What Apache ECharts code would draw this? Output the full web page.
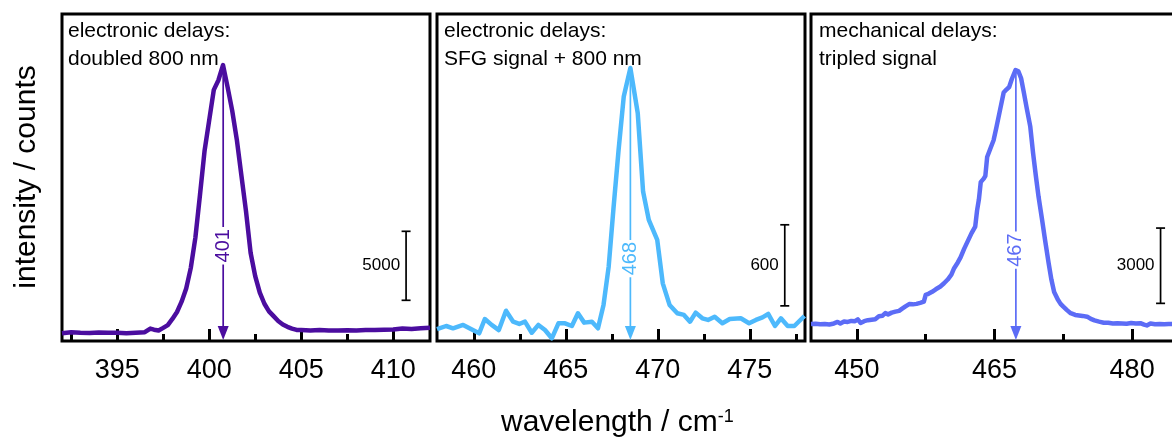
<!DOCTYPE html>
<html>
<head>
<meta charset="utf-8">
<script src="https://cdn.jsdelivr.net/npm/echarts@6/dist/echarts.min.js"></script>
<style>
html, body { margin: 0; padding: 0; overflow: hidden; background: #fff; }
#chart { width: 1180px; height: 437px; }
</style>
</head>
<body>
<div id="chart"></div>
<script>
// ---------- data ----------
const panelTitles = [
  'electronic delays:\ndoubled 800 nm',
  'electronic delays:\nSFG signal + 800 nm',
  'mechanical delays:\ntripled signal'
];
const xRanges = [[392, 412], [458, 478], [445, 485]];
const yMax = [23700, 2420, 13030];
const majorTicks = [[395, 400, 405, 410], [460, 465, 470, 475], [450, 465, 480]];
const minorTicks = [[392.5, 397.5, 402.5, 407.5], [457.5, 462.5, 467.5, 472.5, 477.5], [442.5, 457.5, 472.5, 487.5]];
const colors = ['#4B0D9F', '#4DB9FC', '#5C6CF6'];

// [wavelength, counts]
const doubled = [
  [392.0,560],[392.5,640],[393.0,600],[393.5,580],[394.0,620],[394.5,590],[395.0,600],[395.5,570],
  [396.0,600],[396.5,640],[396.8,900],[397.0,820],[397.25,760],[397.5,950],[397.75,1150],[398.0,1600],
  [398.25,2100],[398.5,2850],[398.75,3800],[399.0,5300],[399.25,7500],[399.5,10600],[399.75,13800],
  [400.0,16000],[400.25,18200],[400.5,18900],[400.75,20000],[401.0,18400],[401.25,16700],[401.5,14600],
  [401.75,12000],[402.0,9400],[402.25,6400],[402.5,4700],[402.75,3500],[403.0,2700],[403.25,2150],
  [403.5,1800],[403.75,1450],[404.0,1200],[404.25,1030],[404.5,900],[404.75,800],[405.0,790],
  [405.5,760],[406.0,790],[406.5,760],[407.0,770],[407.5,780],[408.0,760],[408.5,790],[409.0,800],
  [409.5,820],[410.0,830],[410.5,900],[411.0,870],[411.5,920],[412.0,960]
];
const sfg = [
  [458.0,87],[458.5,111],[458.87,94],[459.42,119],[459.87,87],[460.29,57],[460.6,163],[460.97,119],
  [461.36,81],[461.75,224],[462.14,143],[462.47,126],[462.78,143],[463.15,61],[463.51,119],[463.87,81],
  [464.24,20],[464.6,131],[464.96,131],[465.33,111],[465.66,205],[466.0,136],[466.42,143],[466.75,94],
  [467.05,267],[467.33,550],[467.6,995],[467.87,1415],[468.15,1810],[468.51,2020],[468.91,1687],
  [469.2,1106],[469.51,896],[469.97,748],[470.27,427],[470.64,267],[471.06,205],[471.42,193],
  [471.75,143],[472.06,210],[472.42,168],[472.73,156],[473.09,180],[473.51,131],[473.91,163],
  [474.51,168],[474.96,131],[475.33,156],[475.69,175],[476.0,200],[476.37,111],[476.69,168],
  [477.06,111],[477.42,111],[477.97,185]
];
const tripled = [
  [445.0,680],[445.5,690],[446.0,670],[446.5,680],[447.0,660],[447.5,700],[447.9,760],[448.2,700],
  [448.6,780],[449.0,760],[449.4,800],[449.8,790],[450.1,860],[450.4,720],[450.8,790],[451.2,830],
  [451.6,850],[452.0,870],[452.4,990],[452.8,1010],[453.1,1110],[453.4,1060],[453.8,1130],[454.2,1170],
  [454.6,1200],[454.9,1280],[455.3,1380],[455.7,1470],[456.1,1460],[456.5,1480],[456.9,1520],
  [457.3,1570],[457.5,1840],[457.8,1880],[458.2,1960],[458.6,2060],[459.1,2170],[459.5,2300],
  [459.9,2450],[460.3,2640],[460.6,2900],[461.0,3130],[461.3,3330],[461.7,3680],[462.1,3990],
  [462.5,4300],[462.9,4560],[463.1,5200],[463.3,5640],[463.5,6330],[463.8,6460],[464.0,6570],
  [464.2,7330],[464.5,7620],[464.9,8000],[465.2,8500],[465.6,9200],[466.0,9900],[466.3,10020],
  [466.6,10120],[466.9,10450],[467.3,10800],[467.6,10750],[467.9,10470],[468.2,9900],[468.5,9300],
  [468.9,8540],[469.2,7500],[469.5,6600],[469.8,5750],[470.2,4800],[470.5,4050],[470.9,3100],
  [471.2,2450],[471.5,1950],[471.9,1650],[472.2,1480],[472.5,1370],[472.9,1230],[473.3,1110],
  [473.8,1040],[474.2,1020],[474.6,1000],[475.1,970],[475.5,880],[475.9,820],[476.4,770],[476.9,730],
  [477.4,730],[477.9,700],[478.4,710],[478.9,700],[479.4,690],[479.9,720],[480.4,700],[480.9,710],
  [481.3,650],[481.6,620],[482.0,700],[482.5,670],[483.0,680],[483.5,670],[484.0,680],[484.5,675],
  [485.0,680]
];
const spectra = [doubled, sfg, tripled];

// peak arrows: [x, peak counts, label centre counts]
const arrowPos = [[400.76, 20000, 6900], [468.51, 2020, 610], [467.33, 10800, 3620]];
const arrowLabels = ['401', '468', '467'];
// scale bars: [x, bottom counts, top counts]
const scaleBars = [[410.7, 2950, 7950], [476.9, 260, 860], [483.1, 1500, 4500]];
const scaleLabels = ['5000', '600', '3000'];

const xTitle = 'wavelength / cm';
const xTitleSup = '-1';
const yTitle = 'intensity / counts';

// ---------- layout ----------
const FONT = 'Liberation Sans, Arial, Helvetica, sans-serif';
const gridLefts = [62, 437, 811];
const gridWidths = [368, 368, 367];
const titleLefts = [68, 444, 819];

const grids = [], xAxes = [], yAxes = [], series = [], titles = [];
for (let i = 0; i < 3; i++) {
  grids.push({
    left: gridLefts[i], top: 14, width: gridWidths[i], height: 327,
    show: true, borderColor: '#000', borderWidth: 3, backgroundColor: 'transparent'
  });
  xAxes.push({
    type: 'value', gridIndex: i, min: xRanges[i][0], max: xRanges[i][1],
    axisLine: { show: false },
    splitLine: { show: false },
    axisTick: { show: true, inside: true, length: 12, customValues: majorTicks[i],
      lineStyle: { color: '#000', width: 3 } },
    axisLabel: { show: true, customValues: majorTicks[i], margin: 16,
      fontSize: 27, fontFamily: FONT, color: '#000' }
  });
  xAxes.push({
    type: 'value', gridIndex: i, min: xRanges[i][0], max: xRanges[i][1], position: 'bottom',
    axisLine: { show: false },
    splitLine: { show: false },
    axisTick: { show: true, inside: true, length: 7, customValues: minorTicks[i],
      lineStyle: { color: '#000', width: 3 } },
    axisLabel: { show: false }
  });
  yAxes.push({
    type: 'value', gridIndex: i, min: 0, max: yMax[i], show: false
  });
  series.push({
    type: 'line', xAxisIndex: 2 * i, yAxisIndex: i, data: spectra[i],
    symbol: 'none', smooth: false, clip: true, z: 3,
    lineStyle: { color: colors[i], width: 4.5, join: 'round' }
  });
  const col = colors[i];
  const lab = arrowLabels[i];
  series.push({
    type: 'custom', xAxisIndex: 2 * i, yAxisIndex: i, data: [arrowPos[i]], z: 4,
    encode: { x: 0, y: 1 },
    renderItem: function (params, api) {
      const x = api.value(0), top = api.value(1), ly = api.value(2);
      const p0 = api.coord([x, top]);
      const p1 = api.coord([x, 0]);
      const pl = api.coord([x, ly]);
      const head = 15, hw = 5.5;
      return {
        type: 'group', children: [
          { type: 'line', shape: { x1: p0[0], y1: p0[1], x2: p1[0], y2: p1[1] - head + 1 },
            style: { stroke: col, lineWidth: 1.7 } },
          { type: 'polygon', shape: { points: [[p1[0] - hw, p1[1] - head], [p1[0] + hw, p1[1] - head], [p1[0], p1[1] - 1]] },
            style: { fill: col } },
          { type: 'text', x: pl[0], y: pl[1], rotation: Math.PI / 2,
            style: { text: lab, fill: col, fontSize: 20, fontFamily: FONT,
              align: 'center', verticalAlign: 'middle', backgroundColor: '#fff', padding: [2, 2] } }
        ]
      };
    }
  });
  const sl = scaleLabels[i];
  series.push({
    type: 'custom', xAxisIndex: 2 * i, yAxisIndex: i, data: [scaleBars[i]], z: 4,
    encode: { x: 0, y: [1, 2] },
    renderItem: function (params, api) {
      const x = api.value(0);
      const pb = api.coord([x, api.value(1)]);
      const pt = api.coord([x, api.value(2)]);
      const cw = 4.5;
      const st = { stroke: '#000', lineWidth: 1.7 };
      return {
        type: 'group', children: [
          { type: 'line', shape: { x1: pb[0], y1: pb[1], x2: pt[0], y2: pt[1] }, style: st },
          { type: 'line', shape: { x1: pb[0] - cw, y1: pb[1], x2: pb[0] + cw, y2: pb[1] }, style: st },
          { type: 'line', shape: { x1: pt[0] - cw, y1: pt[1], x2: pt[0] + cw, y2: pt[1] }, style: st },
          { type: 'text', x: pb[0] - 6, y: (pb[1] + pt[1]) / 2,
            style: { text: sl, fill: '#000', fontSize: 17, fontFamily: FONT, align: 'right', verticalAlign: 'middle' } }
        ]
      };
    }
  });
  titles.push({
    text: panelTitles[i], left: titleLefts[i], top: 17, padding: 0,
    textStyle: { fontSize: 21, fontWeight: 'normal', fontFamily: FONT, color: '#000', lineHeight: 28 }
  });
}
titles.push({
  text: xTitle + '{sup|' + xTitleSup + '}', left: 501, top: 408, padding: 0,
  textStyle: { fontSize: 30, fontWeight: 'normal', fontFamily: FONT, color: '#000', lineHeight: 30,
    rich: { sup: { fontSize: 18, fontFamily: FONT, color: '#000', verticalAlign: 'top', lineHeight: 18 } } }
});

const chart = echarts.init(document.getElementById('chart'), null, { renderer: 'canvas' });
chart.setOption({
  animation: false,
  backgroundColor: '#fff',
  title: titles,
  grid: grids,
  xAxis: xAxes,
  yAxis: yAxes,
  series: series,
  graphic: [{
    type: 'text', x: 27, y: 177, rotation: Math.PI / 2,
    style: { text: yTitle, fontSize: 30, fontFamily: FONT, fill: '#000', align: 'center', verticalAlign: 'middle' }
  }]
});
</script>
</body>
</html>
